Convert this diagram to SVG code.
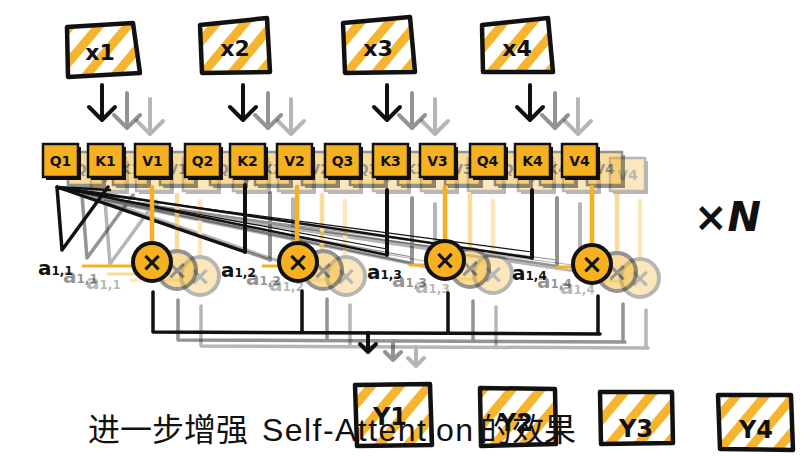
<svg xmlns="http://www.w3.org/2000/svg" xmlns:xlink="http://www.w3.org/1999/xlink" width="805" height="458" viewBox="0 0 805 458">
<defs>
<pattern id="hatch" patternUnits="userSpaceOnUse" width="22" height="22" patternTransform="rotate(40)">
<rect x="0" y="0" width="22" height="22" fill="#fff"/>
<rect x="0" y="0" width="9" height="22" fill="#F6B52E"/>
</pattern>
<style>
.hbox{fill:url(#hatch);stroke:#111;stroke-width:4.5;stroke-linejoin:round}
.lab{font-family:"DejaVu Sans",sans-serif;font-weight:bold;fill:#111;text-anchor:middle}
.qkv{fill:#F5B120;stroke:#111;stroke-width:2.5}
.qsh{fill:#111}
.ln{stroke:#111;fill:none;stroke-linecap:round;stroke-linejoin:round}
.or{stroke:#F5B120;fill:none;stroke-linecap:round}
.circ{fill:#F5B120;stroke:#111;stroke-width:4}
.alab{font-family:"DejaVu Sans",sans-serif;font-weight:bold;fill:#111}
</style>
</defs>
<rect width="805" height="458" fill="#fff"/>

<!-- shadow heads -->
<use xlink:href="#head" href="#head" transform="translate(48,14)" opacity="0.3"/>
<use xlink:href="#head" href="#head" transform="translate(25,8)" opacity="0.45"/>

<g id="head">
  <g id="connectors">
    <path class="ln" stroke-width="4" d="M102,85 L102,119 M89,107 L102,120 L115,107"/>
    <path class="ln" stroke-width="4" d="M243,85 L243,119 M230,107 L243,120 L256,107"/>
    <path class="ln" stroke-width="4" d="M387,85 L387,119 M374,107 L387,120 L400,107"/>
    <path class="ln" stroke-width="4" d="M530,85 L530,119 M517,107 L530,120 L543,107"/>

    <path class="ln" stroke-width="3.5" d="M57,187 L62,250 L108,187"/>
    <path class="ln" stroke-width="2.5" d="M57,187 L110,190"/>
    <path class="ln" stroke-width="3" d="M57,187 L245,252"/>
    <path class="ln" stroke-width="2.5" d="M57,187 L387,255"/>
    <path class="ln" stroke-width="2.5" d="M57,187 L532,258"/>
    <path class="ln" stroke-width="1.2" d="M57,188 L387,249"/>
    <path class="ln" stroke-width="1.2" d="M57,189 L532,252"/>
    <path class="ln" stroke-width="4" d="M245,185 L245,252"/>
    <path class="ln" stroke-width="4" d="M387,190 L387,255"/>
    <path class="ln" stroke-width="4" d="M532,190 L532,258"/>

    <path class="or" stroke-width="4.5" d="M152,187 L152,243"/>
    <path class="or" stroke-width="4.5" d="M297,187 L297,243"/>
    <path class="or" stroke-width="4.5" d="M445,187 L445,241"/>
    <path class="or" stroke-width="4.5" d="M592,187 L592,245"/>
    <path class="or" stroke-width="3" d="M83,266 L132,266"/>
    <path class="or" stroke-width="3" d="M263,266 L279,266"/>
    <path class="or" stroke-width="3" d="M410,265 L426,265"/>
    <path class="or" stroke-width="3" d="M557,267 L573,267"/>

    <path class="ln" stroke-width="3.5" d="M153,292 L153,332 M302,291 L302,332 M448,293 L448,333 M598,296 L598,334 M153,332 L600,334"/>
    <path class="ln" stroke-width="4" d="M368,333 L368,351 M360,344 L368,352 L376,344"/>
  </g>

  <g id="node-Q1"><rect class="qsh" x="46" y="147" width="35" height="33"/><rect class="qkv" x="43" y="144" width="35" height="33"/><text class="lab" x="60.5" y="166" font-size="14">Q1</text></g>
  <g id="node-K1"><rect class="qsh" x="91" y="147" width="35" height="33"/><rect class="qkv" x="88" y="144" width="35" height="33"/><text class="lab" x="105.5" y="166" font-size="14">K1</text></g>
  <g id="node-V1"><rect class="qsh" x="138" y="147" width="35" height="33"/><rect class="qkv" x="135" y="144" width="35" height="33"/><text class="lab" x="152.5" y="166" font-size="14">V1</text></g>
  <g id="node-Q2"><rect class="qsh" x="188" y="147" width="35" height="33"/><rect class="qkv" x="185" y="144" width="35" height="33"/><text class="lab" x="202.5" y="166" font-size="14">Q2</text></g>
  <g id="node-K2"><rect class="qsh" x="233" y="147" width="35" height="33"/><rect class="qkv" x="230" y="144" width="35" height="33"/><text class="lab" x="247.5" y="166" font-size="14">K2</text></g>
  <g id="node-V2"><rect class="qsh" x="280" y="147" width="35" height="33"/><rect class="qkv" x="277" y="144" width="35" height="33"/><text class="lab" x="294.5" y="166" font-size="14">V2</text></g>
  <g id="node-Q3"><rect class="qsh" x="328" y="147" width="35" height="33"/><rect class="qkv" x="325" y="144" width="35" height="33"/><text class="lab" x="342.5" y="166" font-size="14">Q3</text></g>
  <g id="node-K3"><rect class="qsh" x="376" y="147" width="35" height="33"/><rect class="qkv" x="373" y="144" width="35" height="33"/><text class="lab" x="390.5" y="166" font-size="14">K3</text></g>
  <g id="node-V3"><rect class="qsh" x="423" y="147" width="35" height="33"/><rect class="qkv" x="420" y="144" width="35" height="33"/><text class="lab" x="437.5" y="166" font-size="14">V3</text></g>
  <g id="node-Q4"><rect class="qsh" x="473" y="147" width="35" height="33"/><rect class="qkv" x="470" y="144" width="35" height="33"/><text class="lab" x="487.5" y="166" font-size="14">Q4</text></g>
  <g id="node-K4"><rect class="qsh" x="518" y="147" width="35" height="33"/><rect class="qkv" x="515" y="144" width="35" height="33"/><text class="lab" x="532.5" y="166" font-size="14">K4</text></g>
  <g id="node-V4"><rect class="qsh" x="565" y="147" width="35" height="33"/><rect class="qkv" x="562" y="144" width="35" height="33"/><text class="lab" x="579.5" y="166" font-size="14">V4</text></g>

  <g id="node-a11"><text class="alab" x="38" y="275"><tspan font-size="20">a</tspan><tspan font-size="12">1,1</tspan></text></g>
  <g id="node-a12"><text class="alab" x="221" y="277"><tspan font-size="20">a</tspan><tspan font-size="12">1,2</tspan></text></g>
  <g id="node-a13"><text class="alab" x="367" y="279"><tspan font-size="20">a</tspan><tspan font-size="12">1,3</tspan></text></g>
  <g id="node-a14"><text class="alab" x="512" y="280"><tspan font-size="20">a</tspan><tspan font-size="12">1,4</tspan></text></g>

  <g id="node-m1"><circle class="circ" cx="152" cy="262" r="19"/><text class="lab" x="152" y="271" font-size="26">×</text></g>
  <g id="node-m2"><circle class="circ" cx="298" cy="262" r="19"/><text class="lab" x="298" y="271" font-size="26">×</text></g>
  <g id="node-m3"><circle class="circ" cx="445" cy="260" r="19"/><text class="lab" x="445" y="269" font-size="26">×</text></g>
  <g id="node-m4"><circle class="circ" cx="592" cy="264" r="19"/><text class="lab" x="592" y="273" font-size="26">×</text></g>
</g>

<g id="node-x1"><polygon class="hbox" points="67,27 133,23 140,73 68,77"/><text class="lab" x="100" y="60" font-size="22">x1</text></g>
<g id="node-x2"><polygon class="hbox" points="200,25 267,18 270,72 202,73"/><text class="lab" x="235" y="56" font-size="22">x2</text></g>
<g id="node-x3"><polygon class="hbox" points="343,23 410,17 415,72 345,73"/><text class="lab" x="378" y="56" font-size="22">x3</text></g>
<g id="node-x4"><polygon class="hbox" points="482,25 548,18 553,72 483,72"/><text class="lab" x="517" y="56" font-size="22">x4</text></g>

<g id="node-y1"><polygon class="hbox" points="355,385 430,384 432,445 357,446"/><text class="lab" x="390" y="425" font-size="24">Y1</text></g>
<g id="node-y2"><polygon class="hbox" points="480,388 555,389 556,444 481,446"/><text class="lab" x="516" y="431" font-size="24">Y2</text></g>
<g id="node-y3"><polygon class="hbox" points="600,392 672,392 673,443 601,444"/><text class="lab" x="636" y="437" font-size="24">Y3</text></g>
<g id="node-y4"><polygon class="hbox" points="718,395 791,395 793,450 720,449"/><text class="lab" x="756" y="438" font-size="24">Y4</text></g>

<g id="label-N"><text x="694" y="231" font-family="DejaVu Sans, sans-serif" font-weight="bold" font-style="italic" font-size="40" fill="#111">×N</text></g>

<text y="441" font-family="Liberation Sans, Noto Sans CJK SC, sans-serif" font-size="32" fill="#111"><tspan x="88">进一步增强 </tspan><tspan x="262" textLength="211" lengthAdjust="spacing">Self-Attention</tspan><tspan x="480">的效果</tspan></text>
</svg>
